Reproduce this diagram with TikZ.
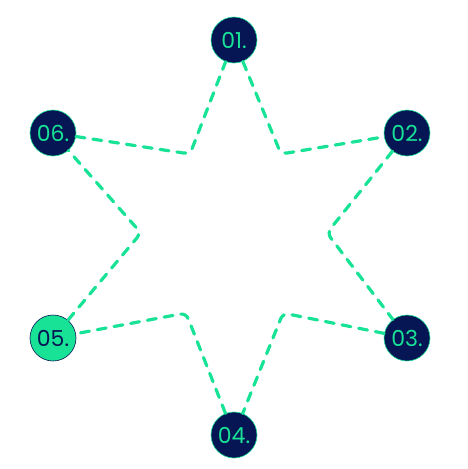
\documentclass[tikz,border=0pt]{standalone}
\usepackage{fontspec}
\setmainfont{Poppins}
\definecolor{navy}{RGB}{6,22,84}
\definecolor{mint}{RGB}{24,226,150}
\begin{document}
\begin{tikzpicture}[x=1pt, y=-1pt, thick,
    main/.style = {draw=mint, line width=0.6pt, circle, fill=navy, text=mint, minimum size=46pt, inner sep=0pt, font=\fontsize{22}{22}\selectfont},
    lit/.style = {main, draw=navy, fill=mint, text=navy},
    ray/.style = {draw=mint, line width=3.2pt, dash pattern=on 9pt off 8pt, line cap=round, rounded corners=6pt}]
    \useasboundingbox (0,0) rectangle (468,469);
    \node[main] (1) at (234,40) {01.};
    \node[main] (2) at (407,133) {02.};
    \node[main] (3) at (407,338) {03.};
    \node[main] (4) at (234,435) {04.};
    \node[lit] (5) at (53,338) {05.};
    \node[main] (6) at (53,133) {06.};
    \coordinate (a) at (281,154);
    \coordinate (b) at (327,233);
    \coordinate (c) at (283,313);
    \coordinate (d) at (186,313);
    \coordinate (e) at (141,233);
    \coordinate (f) at (190,154);
    \draw[ray] (1) -- (a) -- (2);
    \draw[ray] (2) -- (b) -- (3);
    \draw[ray] (3) -- (c) -- (4);
    \draw[ray] (4) -- (d) -- (5);
    \draw[ray] (5) -- (e) -- (6);
    \draw[ray] (6) -- (f) -- (1);
\end{tikzpicture}
\end{document}
